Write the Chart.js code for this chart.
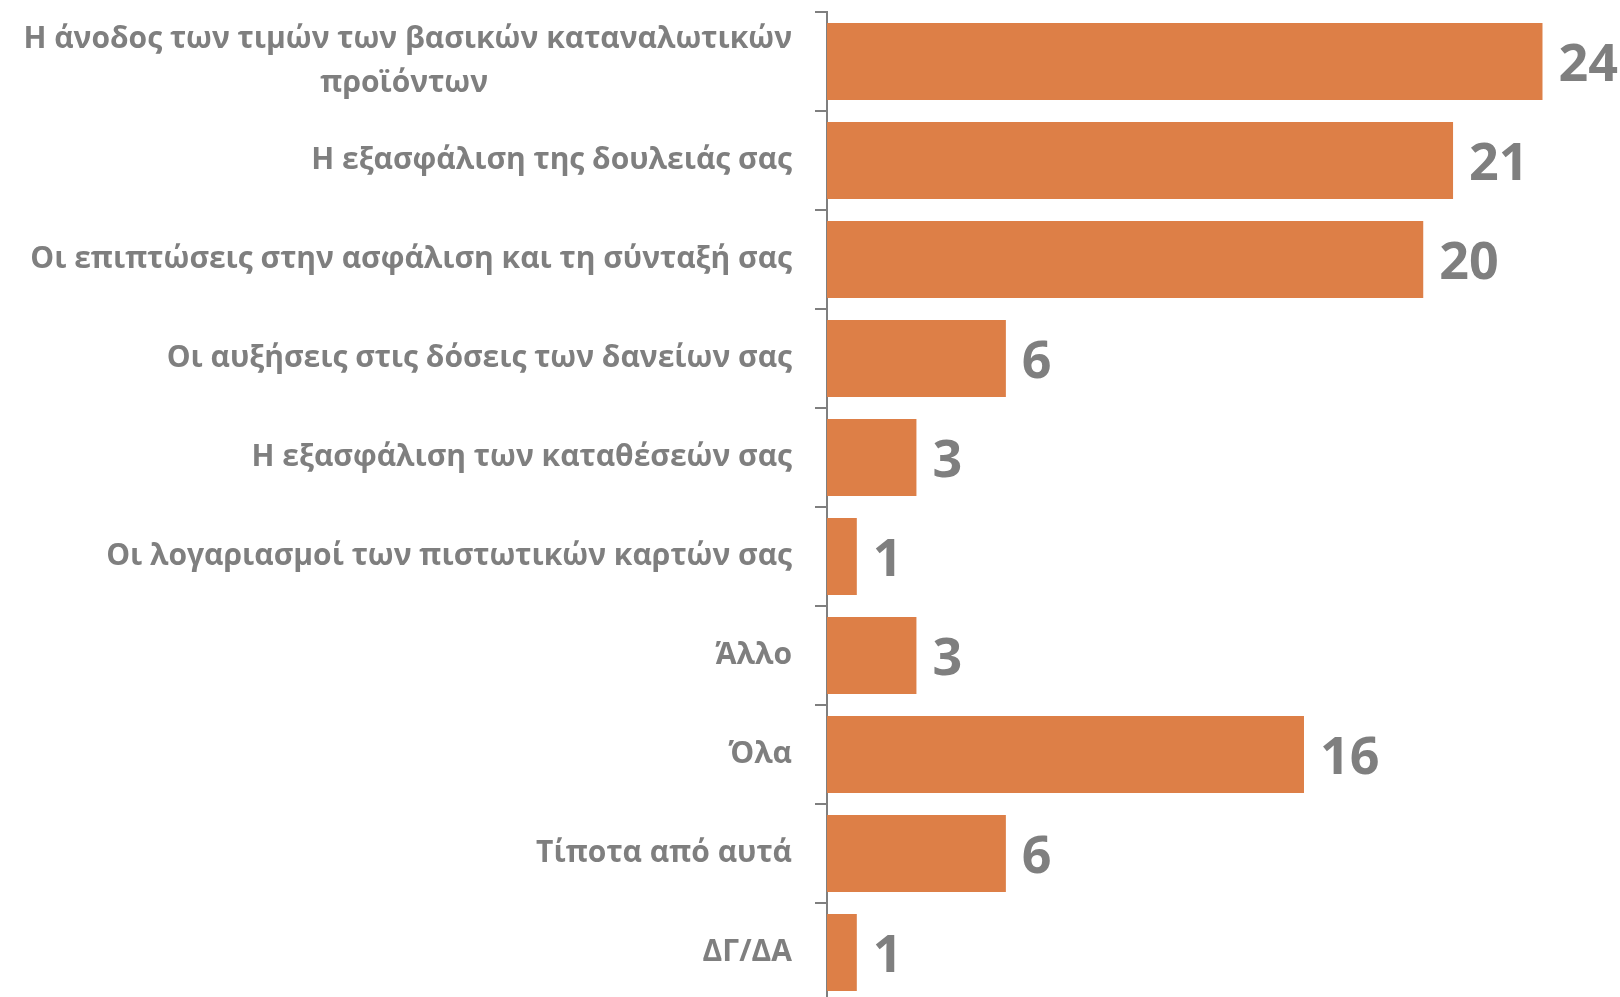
<!DOCTYPE html>
<html>
<head>
<meta charset="utf-8">
<script src="https://cdn.jsdelivr.net/npm/chart.js@4"></script>
<style>
  html, body { margin: 0; padding: 0; background: #fff; overflow: hidden; }
  #wrap { position: relative; width: 1620px; height: 1002px; }
</style>
</head>
<body>
<div id="wrap"><canvas id="chart"></canvas></div>
<script>
// --- Data ---
const categories = [
    ['Η άνοδος των τιμών των βασικών καταναλωτικών', 'προϊόντων'],
    'Η εξασφάλιση της δουλειάς σας',
    'Οι επιπτώσεις στην ασφάλιση και τη σύνταξή σας',
    'Οι αυξήσεις στις δόσεις των δανείων σας',
    'Η εξασφάλιση των καταθέσεών σας',
    'Οι λογαριασμοί των πιστωτικών καρτών σας',
    'Άλλο',
    'Όλα',
    'Τίποτα από αυτά',
    'ΔΓ/ΔΑ'
];
const values = [24, 21, 20, 6, 3, 1, 3, 16, 6, 1];

const grey = '#7f7f7f';
const barColor = '#dd7f47';
const labelFont = 'bold 30px "Open Sans"';

// multi-line labels: centre the shorter lines under the longest one
// (axis labels are right aligned, so pad them with trailing no-break spaces)
const measureCtx = document.createElement('canvas').getContext('2d');
measureCtx.font = labelFont;
function centerLines(label) {
    if (!Array.isArray(label)) return label;
    const widths = label.map(l => measureCtx.measureText(l).width);
    const maxW = Math.max(...widths);
    const sp = measureCtx.measureText('\u00A0').width;
    return label.map((l, i) => l + '\u00A0'.repeat(Math.round((maxW - widths[i]) / 2 / sp)));
}

// --- Value labels at the end of each bar ---
const valueLabels = {
    id: 'valueLabels',
    afterDatasetsDraw(chart) {
        const { ctx } = chart;
        const meta = chart.getDatasetMeta(0);
        ctx.save();
        ctx.fillStyle = grey;
        ctx.font = 'bold 52px "Open Sans"';
        ctx.textAlign = 'left';
        ctx.textBaseline = 'middle';
        meta.data.forEach((bar, i) => {
            ctx.fillText(values[i], bar.x + 16, bar.y + 5);
        });
        ctx.restore();
    }
};

document.fonts.load(labelFont).then(() => {
    measureCtx.font = labelFont;
    new Chart(document.getElementById('chart'), {
        type: 'bar',
        data: {
            labels: categories.map(centerLines),
            datasets: [{
                data: values,
                backgroundColor: barColor,
                borderWidth: 0,
                barPercentage: 0.78,
                categoryPercentage: 1
            }]
        },
        options: {
            indexAxis: 'y',
            responsive: true,
            maintainAspectRatio: false,
            animation: false,
            layout: { padding: { top: 12, right: 0, bottom: 0, left: 0 } },
            plugins: {
                legend: { display: false },
                tooltip: { enabled: false }
            },
            scales: {
                x: {
                    display: false,
                    min: 0,
                    max: 26.6
                },
                y: {
                    afterFit(scale) {
                        scale.width = 827;
                        // no extra room for the half-height of the first/last label
                        scale.paddingTop = 0;
                        scale.paddingBottom = 0;
                    },
                    border: { color: grey, width: 2 },
                    grid: {
                        offset: true,
                        drawOnChartArea: false,
                        drawTicks: true,
                        tickLength: 12,
                        color: grey,
                        lineWidth: 2
                    },
                    ticks: {
                        padding: 23,
                        color: grey,
                        font: { family: 'Open Sans', size: 30, weight: 'bold', lineHeight: 1.45 }
                    }
                }
            }
        },
        plugins: [valueLabels]
    });
});
</script>
</body>
</html>
